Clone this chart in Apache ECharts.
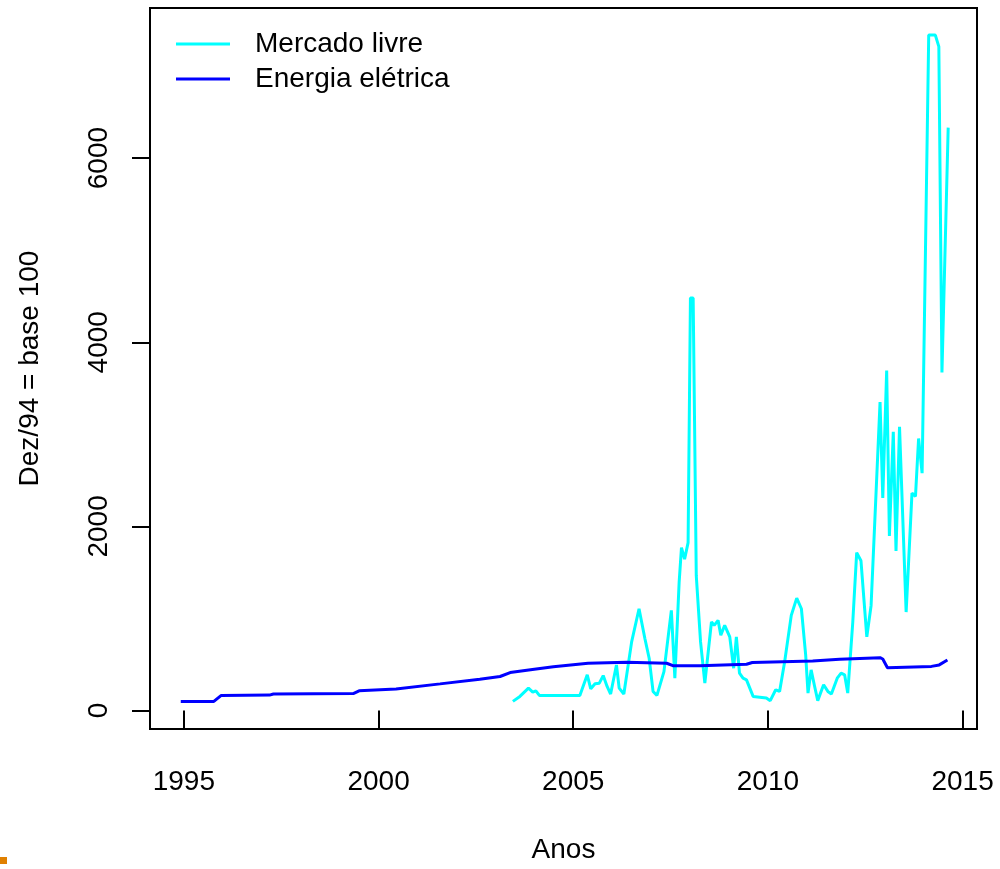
<!DOCTYPE html>
<html>
<head>
<meta charset="utf-8">
<script src="https://cdn.jsdelivr.net/npm/echarts@6/dist/echarts.min.js"></script>
<style>
  html, body { margin: 0; padding: 0; background: #fff; }
  #chart { width: 1000px; height: 869px; }
</style>
</head>
<body>
<div id="chart"></div>
<script>
// ---- data ----
const seriesNames = ['Mercado livre', 'Energia elétrica'];

const livreYears = [2003.45, 2003.63, 2003.85, 2003.96, 2004.04, 2004.13, 2005.17, 2005.36, 2005.45, 2005.56,
  2005.67, 2005.77, 2005.87, 2005.96, 2006.11, 2006.18, 2006.30, 2006.50, 2006.69, 2006.84,
  2006.95, 2007.05, 2007.15, 2007.33, 2007.52, 2007.61, 2007.72, 2007.78, 2007.86, 2007.95,
  2008.01, 2008.08, 2008.16, 2008.27, 2008.38, 2008.55, 2008.62, 2008.72, 2008.79, 2008.89,
  2009.02, 2009.12, 2009.19, 2009.27, 2009.36, 2009.45, 2009.62, 2009.96, 2010.06, 2010.20,
  2010.30, 2010.43, 2010.60, 2010.74, 2010.86, 2010.97, 2011.03, 2011.11, 2011.20, 2011.28,
  2011.43, 2011.54, 2011.63, 2011.78, 2011.88, 2011.97, 2012.05, 2012.18, 2012.28, 2012.39,
  2012.54, 2012.65, 2012.88, 2012.95, 2013.05, 2013.12, 2013.22, 2013.29, 2013.38, 2013.55,
  2013.70, 2013.79, 2013.87, 2013.96, 2014.13, 2014.30, 2014.39, 2014.47, 2014.63];
const livreValues = [100, 154, 244, 201, 215, 165, 165, 388, 237, 291,
  298, 380, 262, 180, 495, 244, 180, 746, 1106, 783,
  568, 208, 165, 423, 1088, 352, 1393, 1770, 1645, 1824,
  4481, 4481, 1465, 746, 298, 962, 926, 980, 819, 926,
  800, 460, 800, 406, 352, 334, 154, 137, 108, 226,
  208, 531, 1034, 1221, 1106, 603, 190, 442, 262, 108,
  280, 208, 180, 352, 406, 388, 190, 962, 1716, 1627,
  800, 1142, 3350, 2309, 3692, 1896, 3027, 1734, 3081, 1070,
  2362, 2327, 2955, 2578, 7336, 7336, 7210, 3673, 6331];

const energiaYears = [1994.92, 1995.77, 1995.96, 1997.20, 1997.30, 1999.35, 1999.50, 2000.45, 2001.58, 2002.60,
  2003.12, 2003.38, 2004.00, 2004.49, 2005.38, 2006.37, 2007.40, 2007.56, 2008.25, 2009.45,
  2009.60, 2011.15, 2011.84, 2012.88, 2012.95, 2013.07, 2014.20, 2014.40, 2014.61];
const energiaValues = [100, 100, 165, 168, 180, 185, 215, 235, 290, 341,
  370, 413, 450, 477, 514, 525, 514, 488, 488, 503,
  522, 539, 557, 574, 560, 465, 480, 496, 549];

const xTicks = [1995, 2000, 2005, 2010, 2015];
const yTicks = [0, 2000, 4000, 6000];
const xTitle = 'Anos';
const yTitle = 'Dez/94 = base 100';

// ---- build chart ----
const pairs = (xs, ys) => xs.map((x, i) => [x, ys[i]]);
const FONT = "'Liberation Sans', Arial, Helvetica, sans-serif";

const chart = echarts.init(document.getElementById('chart'), null, { renderer: 'canvas' });
chart.setOption({
  animation: false,
  backgroundColor: '#ffffff',
  textStyle: { fontFamily: FONT },
  grid: {
    left: 150, right: 23, top: 8, bottom: 135,
    show: true, borderColor: '#000', borderWidth: 2, backgroundColor: 'transparent'
  },
  legend: {
    orient: 'vertical',
    left: 176, top: 29,
    padding: 0,
    itemWidth: 54, itemHeight: 3, itemGap: 5,
    icon: 'rect',
    textStyle: { fontSize: 28, lineHeight: 30, color: '#000', fontFamily: FONT, padding: [0, 0, 0, 20] },
    data: seriesNames
  },
  xAxis: {
    type: 'value',
    min: 1994.13, max: 2015.37,
    name: xTitle, nameLocation: 'middle', nameGap: 107,
    nameTextStyle: { fontSize: 28, color: '#000', fontFamily: FONT },
    axisLine: { show: false },
    splitLine: { show: false },
    axisTick: { show: true, inside: false, length: 18, customValues: xTicks, lineStyle: { color: '#000', width: 2 } },
    axisLabel: { customValues: xTicks, margin: 39, fontSize: 28, color: '#000', fontFamily: FONT,
      formatter: v => String(Math.round(v)) }
  },
  yAxis: {
    type: 'value',
    min: -200, max: 7630,
    name: yTitle, nameLocation: 'middle', nameRotate: 90, nameGap: 106,
    nameTextStyle: { fontSize: 28, color: '#000', fontFamily: FONT },
    axisLine: { show: false },
    splitLine: { show: false },
    axisTick: { show: true, inside: false, length: 18, customValues: yTicks, lineStyle: { color: '#000', width: 2 } },
    axisLabel: { customValues: yTicks, rotate: 90, margin: 37, fontSize: 28, color: '#000', fontFamily: FONT,
      formatter: v => String(Math.round(v)) }
  },
  series: [
    {
      name: seriesNames[0], type: 'line', symbol: 'none', showSymbol: false,
      data: pairs(livreYears, livreValues),
      lineStyle: { color: '#00FFFF', width: 3 }, itemStyle: { color: '#00FFFF' }, z: 2
    },
    {
      name: seriesNames[1], type: 'line', symbol: 'none', showSymbol: false,
      data: pairs(energiaYears, energiaValues),
      lineStyle: { color: '#0000FF', width: 3 }, itemStyle: { color: '#0000FF' }, z: 3
    }
  ],
  graphic: [
    { type: 'rect', left: 0, top: 857, shape: { width: 7, height: 7 }, style: { fill: '#E08000' } }
  ]
});
</script>
</body>
</html>
